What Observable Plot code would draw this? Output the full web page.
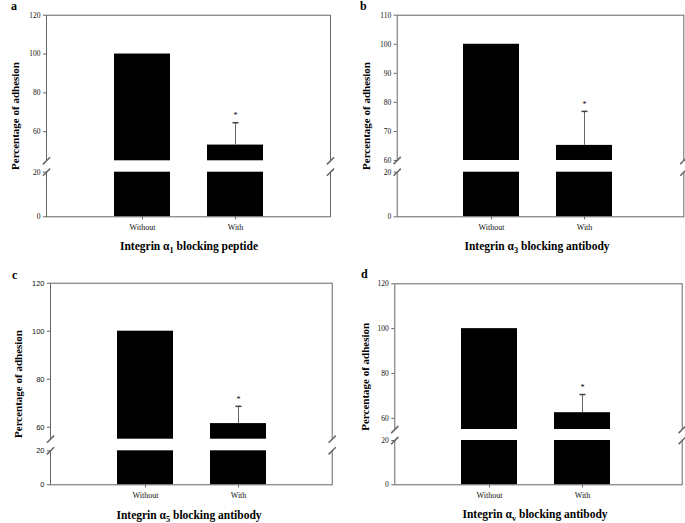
<!DOCTYPE html>
<html><head><meta charset="utf-8">
<script src="https://cdn.jsdelivr.net/npm/d3@7"></script>
<script src="https://cdn.jsdelivr.net/npm/@observablehq/plot@0.6"></script>
<style>
body{margin:0;background:#fff;}
#fig{position:relative;width:685px;height:523px;overflow:hidden;background:#fff;font-family:"Liberation Serif","Times New Roman",serif;color:#000;}
.panel{position:absolute;}
.panel svg{position:absolute;left:0;top:0;overflow:visible;}
.letter{position:absolute;font-weight:bold;font-size:12px;line-height:12px;}
.xtitle{position:absolute;font-weight:bold;font-size:11.5px;line-height:12px;white-space:nowrap;transform:translateX(-50%);}
.xtitle sub{font-size:0.72em;line-height:0;vertical-align:-0.35em;}
</style></head><body><div id="fig"></div>
<script>
// ---- data ----
const categories = ["Without", "With"];
const panelLetters = ["a", "b", "c", "d"];
const titleSubs = ["1", "3", "5", "v"];
const titleTails = ["blocking peptide", "blocking antibody", "blocking antibody", "blocking antibody"];
const yTitle = "Percentage of adhesion";
const significant = [false, true];

const meansA = [100, 53.1]; const errA = [0, 11.5];
const meansB = [100, 65.2]; const errB = [0, 11.7];
const meansC = [100, 61.5]; const errC = [0, 7.2];
const meansD = [100, 62.5]; const errD = [0, 8.1];

const ticksA = [0, 20, 60, 80, 100, 120];
const ticksB = [0, 20, 60, 70, 80, 90, 100, 110];
const ticksC = [0, 20, 60, 80, 100, 120];
const ticksD = [0, 20, 60, 80, 100, 120];

const breakA = [20, 45]; const maxA = 120;
const breakB = [20, 60]; const maxB = 110;
const breakC = [20, 55]; const maxC = 120;
const breakD = [20, 55]; const maxD = 120;

// ---- layout (pixels, per panel) ----
const serif = "'Liberation Serif','Times New Roman',serif";
const sans = "'Liberation Sans',Arial,sans-serif";
const layouts = [
  {ox:0, oy:0, w:340, h:240, mL:46, mR:10, mT:14.7, mB:23.7, yRange:[216.3,171.7,160.3,14.7], xRange:[47.8,328.9], yDx:-31, yDy:0, tickFont:serif, tickSize:7.5, letter:[11,0], title:[189,240.4]},
  {ox:340, oy:0, w:345, h:240, mL:56.7, mR:1.7, mT:14.7, mB:23.7, yRange:[216.3,171.7,160,14.7], xRange:[57.3,338.4], yDx:-30.7, yDy:0, tickFont:serif, tickSize:7.5, letter:[20,0], title:[197,240.4]},
  {ox:0, oy:260, w:340, h:250, mL:50, mR:8.3, mT:22.7, mB:25.7, yRange:[224.3,190.3,178.7,22.7], xRange:[50.6,331.7], yDx:-32.3, yDy:0, tickFont:sans, tickSize:7.5, letter:[12,9], title:[189,249.4]},
  {ox:340, oy:260, w:345, h:250, mL:54.3, mR:3.3, mT:23.3, mB:25.7, yRange:[224.3,180,169,23.3], xRange:[55.5,336], yDx:-29.3, yDy:-7.5, tickFont:serif, tickSize:7.5, letter:[21,8.3], title:[195,247.7]}
];

const panels = [
  {means:meansA, errs:errA, ticks:ticksA, brk:breakA, max:maxA},
  {means:meansB, errs:errB, ticks:ticksB, brk:breakB, max:maxB},
  {means:meansC, errs:errC, ticks:ticksC, brk:breakC, max:maxC},
  {means:meansD, errs:errD, ticks:ticksD, brk:breakD, max:maxD}
];

const slash = {draw(ctx, size){const r = Math.sqrt(size/Math.PI); ctx.moveTo(-r, r); ctx.lineTo(r, -r);}};
const capSym = {draw(ctx, size){const r = Math.sqrt(size/Math.PI); ctx.moveTo(-r, 0); ctx.lineTo(r, 0);}};

const fig = document.getElementById("fig");
panels.forEach((p, k) => {
  const L = layouts[k];
  const data = categories.map((c, i) => ({cat:c, mean:p.means[i], err:p.errs[i], sig:significant[i]}));
  const withErr = data.filter(d => d.err > 0);
  const chart = Plot.plot({
    width: L.w, height: L.h,
    marginLeft: L.mL, marginRight: L.mR, marginTop: L.mT, marginBottom: L.mB,
    style: {fontFamily: serif, color: "#000", background: "transparent"},
    x: {type: "band", domain: categories, range: L.xRange, paddingInner: 0.4, paddingOuter: 0.7},
    y: {type: "linear", domain: [0, p.brk[0], p.brk[1], p.max], range: L.yRange},
    marks: [
      Plot.barY(data, {x: "cat", y: "mean", fill: "#000"}),
      Plot.frame({stroke: "#666"}),
      Plot.rect([p.brk], {y1: d => d[0], y2: d => d[1], fill: "#fff", insetLeft: -3, insetRight: -3}),
      Plot.dot(p.brk, {y: d => d, frameAnchor: "left", symbol: slash, r: 3.6, stroke: "#666", fill: "none"}),
      Plot.dot(p.brk, {y: d => d, frameAnchor: "right", symbol: slash, r: 3.6, stroke: "#666", fill: "none"}),
      Plot.ruleX(withErr, {x: "cat", y1: "mean", y2: d => d.mean + d.err, stroke: "#666"}),
      Plot.dot(withErr, {x: "cat", y: d => d.mean + d.err, symbol: capSym, r: 3, stroke: "#444", fill: "none"}),
      Plot.text(data.filter(d => d.sig), {x: "cat", y: d => d.mean + d.err, text: () => "*", dy: -7, fontSize: 8}),
      Plot.axisY({ticks: p.ticks, tickSize: 3, tickPadding: 3, label: null, fontSize: L.tickSize, fontFamily: L.tickFont, stroke: "#666", fill: "#111"}),
      Plot.axisX({tickSize: 3, tickPadding: 5, label: null, fontSize: 8, stroke: "#666", fill: "#111"}),
      Plot.text([yTitle], {text: d => d, frameAnchor: "left", textAnchor: "middle", lineAnchor: "middle", rotate: -90, dx: L.yDx, dy: L.yDy, fontWeight: "bold", fontSize: 11})
    ]
  });
  const div = document.createElement("div");
  div.className = "panel";
  div.style.left = L.ox + "px"; div.style.top = L.oy + "px";
  div.style.width = L.w + "px"; div.style.height = (k < 2 ? 260 : 263) + "px";
  div.appendChild(chart);
  const letter = document.createElement("div");
  letter.className = "letter";
  letter.textContent = panelLetters[k];
  letter.style.left = L.letter[0] + "px"; letter.style.top = L.letter[1] + "px";
  div.appendChild(letter);
  const title = document.createElement("div");
  title.className = "xtitle";
  title.innerHTML = "Integrin \u03b1<sub>" + titleSubs[k] + "</sub> " + titleTails[k];
  title.style.left = L.title[0] + "px"; title.style.top = L.title[1] + "px";
  div.appendChild(title);
  fig.appendChild(div);
});
</script></body></html>
